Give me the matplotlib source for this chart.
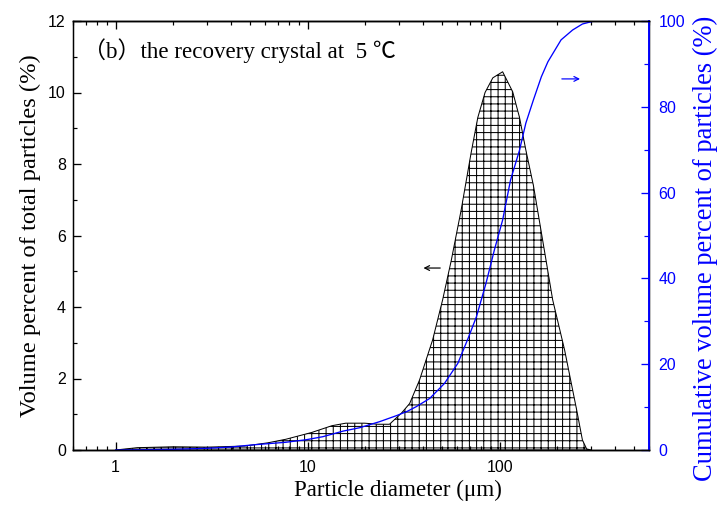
import matplotlib
matplotlib.use("Agg")
from matplotlib import pyplot as plt
from matplotlib.ticker import FixedLocator, MultipleLocator, FuncFormatter
import numpy as np

# particle size distribution
diameter = [1.0, 1.3, 2.0, 3.0, 4.7, 6.2, 7.7, 10.5, 13.4, 15.8, 19.8, 23.3,
            26.7, 30.8, 34.0, 38.3, 44.8, 50.5, 56.0, 63.0, 71.0, 77.0, 84.0,
            92.2, 103.7, 117.0, 127.0, 137.0, 150.0, 171.0, 189.0, 218.0,
            252.0, 270.0, 284.0, 300.0]
volume = [0.0, 0.065, 0.09, 0.08, 0.11, 0.2, 0.3, 0.49, 0.68, 0.75, 0.75, 0.72,
          0.72, 1.03, 1.3, 1.96, 3.08, 4.2, 5.3, 6.7, 8.3, 9.3, 10.0,
          10.41, 10.58, 10.02, 9.3, 8.39, 7.4, 5.59, 4.2, 2.8,
          1.12, 0.28, 0.03, 0.0]

cum_diameter = [1.0, 2.0, 3.0, 4.0, 5.2, 7.7, 9.85, 12.0, 15.3, 18.7, 23.7, 29.0,
                33.0, 36.8, 43.2, 51.6, 60.6, 68.5, 75.8, 85.0, 93.9, 103.7,
                114.0, 127.0, 137.0, 150.0, 165.0, 178.5, 209.0, 240.0, 270.0,
                310.0, 600.0]
cumulative = [0.0, 0.15, 0.4, 0.7, 1.2, 1.8, 2.4, 3.1, 4.4, 5.2, 6.6, 8.0,
              9.0, 10.1, 12.0, 15.5, 20.2, 26.0, 31.1, 38.9, 46.6, 53.6,
              62.9, 69.9, 76.2, 81.6, 87.0, 90.5, 95.6, 97.9, 99.3,
              100.0, 100.0]

x_major = [1, 10, 100]
blue = '#0000ff'
serif = ['Liberation Serif', 'Noto Sans CJK SC', 'DejaVu Sans']
sans = 'Liberation Sans'

dpi = 86
plt.rcParams['hatch.linewidth'] = 0.85
plt.rcParams['font.family'] = sans

fig, ax1 = plt.subplots(figsize=(722/dpi, 506/dpi), dpi=dpi)
fig.subplots_adjust(left=73/722, right=649/722, top=1-21/506, bottom=1-450/506)
ax2 = ax1.twinx()

ax1.fill_between(diameter, volume, 0, facecolor='white', edgecolor='black',
                 hatch='++', linewidth=0.85)
ax2.plot(cum_diameter, cumulative, color=blue, linewidth=1.1)

ax1.set_xscale('log')
ax1.set_xlim(0.6, 600)
ax1.set_ylim(0, 12)
ax2.set_ylim(0, 100)

ax1.xaxis.set_major_locator(FixedLocator(x_major))
ax1.xaxis.set_major_formatter(FuncFormatter(lambda v, p: '%g' % v))
minors = [m * 10.0**e for e in range(-1, 3) for m in range(2, 10)]
ax1.xaxis.set_minor_locator(FixedLocator(minors))
ax1.xaxis.set_minor_formatter(FuncFormatter(lambda v, p: ''))
ax1.yaxis.set_major_locator(MultipleLocator(2))
ax1.yaxis.set_minor_locator(MultipleLocator(1))
ax2.yaxis.set_major_locator(MultipleLocator(20))
ax2.yaxis.set_minor_locator(MultipleLocator(10))

ax1.tick_params(axis='x', which='both', direction='in', top=True, labelsize=13.4, pad=8)
ax1.tick_params(axis='y', which='both', direction='in', right=False, labelsize=13.4, pad=6)
ax1.tick_params(which='major', length=6.5, width=1.1)
ax1.tick_params(which='minor', length=3.5, width=1.0)
ax2.tick_params(axis='y', which='both', direction='in', colors=blue, labelsize=13.4, pad=8)
ax2.tick_params(which='major', length=6.5, width=1.1)
ax2.tick_params(which='minor', length=4.5, width=1.0)

for s in ax1.spines.values():
    s.set_linewidth(1.25)
for name, s in ax2.spines.items():
    s.set_linewidth(1.25)
ax2.spines['right'].set_color(blue)
ax2.spines['right'].set_linewidth(1.6)
ax2.spines['left'].set_visible(False)

ax1.set_xlabel('Particle diameter (\u03bcm)', family=serif, fontsize=19.3)
ax1.xaxis.set_label_coords(0.564, -0.07)
ax1.set_ylabel('Volume percent of total particles (%)', family=serif, fontsize=20.5, labelpad=6)
ax2.set_ylabel('Cumulative volume percent of particles (%)', family=serif, fontsize=22.2,
               color=blue)
ax2.yaxis.set_label_coords(1.077, 0.47)

ax1.text(0.017, 0.932, '\uff08b\uff09the recovery crystal at  5 \u2103', transform=ax1.transAxes,
         family=serif, fontsize=19.3, va='center', ha='left')

# direction arrows
ax1.annotate('', xy=(39, 5.09), xytext=(50.5, 5.09),
             arrowprops=dict(arrowstyle='->', color='black', lw=1.0))
ax2.annotate('', xy=(270, 86.5), xytext=(205, 86.5),
             arrowprops=dict(arrowstyle='->', color=blue, lw=1.0))

fig.savefig('out.png', dpi=dpi)
